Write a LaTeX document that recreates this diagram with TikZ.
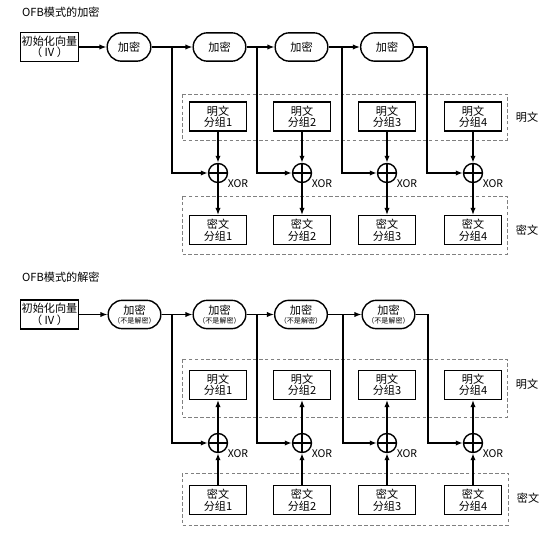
\documentclass[tikz,border=0pt]{standalone}
\usepackage{fontspec}
\setmainfont{Noto Sans CJK SC}
\usetikzlibrary{arrows.meta,shapes.misc}

\tikzset{
  blk/.style={draw, line width=1.2pt, minimum width=1.71cm, minimum height=0.86cm,
    inner sep=1pt, align=center, font=\fontsize{9.5}{9.8}\selectfont},
  encbox/.style={draw, line width=1.2pt, rounded rectangle, minimum width=1.65cm,
    minimum height=0.85cm, inner sep=1pt, align=center, font=\fontsize{9.5}{9.8}\selectfont},
  xorc/.style={draw, line width=1.2pt, circle, minimum size=0.57cm, inner sep=0pt,
    path picture={\draw[line width=1.2pt] (path picture bounding box.north) -- (path picture bounding box.south)
      (path picture bounding box.west) -- (path picture bounding box.east);}},
  xorlbl/.style={font=\fontsize{9}{9}\selectfont, inner sep=0pt},
  region/.style={draw=gray, densely dashed, line width=0.5pt},
  line/.style={line width=1.1pt},
  link/.style={line width=1.1pt, -{Latex[length=6pt,width=4.5pt]}},
}

\begin{document}
\begin{tikzpicture}[x=0.03cm, y=-0.03cm, font=\fontsize{9.5}{10}\selectfont]
	\useasboundingbox (0,0) rectangle (554,539);
	% oben: verschluesselung
	\node[anchor=west, inner sep=0pt] (titleA) at (22,12) {OFB模式的加密};
	\node[blk] (ivA) at (49.5,47) {初始化向量\\（ IV ）};
	\node[encbox, minimum width=1.38cm] (encA1) at (129,47) {加密};
	\foreach \i/\x in {2/219.5,3/301.5,4/387}
		\node[encbox] (encA\i) at (\x,47) {加密};
	% bereiche
	\draw[region] (182,94) rectangle (507,140);
	\draw[region] (182,196) rectangle (507,254);
	\node (ptlblA) at (527,117) {明文};
	\node (ctlblA) at (527,230) {密文};
	% bloecke
	\foreach \i/\x in {1/218,2/302,3/387,4/473} {
		\node[blk, fill=white] (ptA\i) at (\x,116.5) {明文\\分组\i};
		\node[xorc] (xorA\i) at (\x,173) {};
		\node[xorlbl] (xlA\i) at (\x+20,184) {XOR};
		\node[blk, fill=white] (ctA\i) at (\x,230) {密文\\分组\i};
	}
	% verbindungen
	\draw[link] (ivA) -- (encA1);
	\foreach \i/\bx in {1/172,2/257,3/342,4/427} {
		\coordinate (brA\i) at (\bx,47);
		\draw[line] (encA\i.east) -- (brA\i);
		\draw[link] (brA\i) |- (xorA\i.west);
		\draw[link] (ptA\i) -- (xorA\i);
		\draw[link] (xorA\i) -- (ctA\i);
	}
	\foreach \i/\j in {1/2,2/3,3/4}
		\draw[link] (brA\i) -- (encA\j.west);

	% unten: entschluesselung
	\node[anchor=west, inner sep=0pt] (titleB) at (22,277) {OFB模式的解密};
	\node[blk] (ivB) at (49.5,314.5) {初始化向量\\（ IV ）};
	\foreach \i/\x in {1/134.5,2/219.5,3/301,4/388.5}
		\node[encbox] (encB\i) at (\x,314.5) {加密\\[-2pt]{\fontsize{6}{6}\selectfont（不是解密）}};
	% bereiche
	\draw[region] (182,359) rectangle (507,417);
	\draw[region] (182,473) rectangle (508,525);
	\node (ptlblB) at (527,384) {明文};
	\node (ctlblB) at (528,498) {密文};
	% bloecke
	\foreach \i/\x in {1/218,2/302,3/387,4/473} {
		\node[blk, fill=white] (ptB\i) at (\x,385) {明文\\分组\i};
		\node[xorc] (xorB\i) at (\x,443) {};
		\node[xorlbl] (xlB\i) at (\x+20,454) {XOR};
		\node[blk, fill=white] (ctB\i) at (\x,500) {密文\\分组\i};
	}
	% verbindungen
	\draw[link] (ivB) -- (encB1);
	\foreach \i/\bx in {1/172,2/257,3/343,4/428} {
		\coordinate (brB\i) at (\bx,314.5);
		\draw[line] (encB\i.east) -- (brB\i);
		\draw[link] (brB\i) |- (xorB\i.west);
		\draw[link] (ctB\i) -- (xorB\i);
		\draw[link] (xorB\i) -- (ptB\i);
	}
	\foreach \i/\j in {1/2,2/3,3/4}
		\draw[link] (brB\i) -- (encB\j.west);
\end{tikzpicture}
\end{document}
